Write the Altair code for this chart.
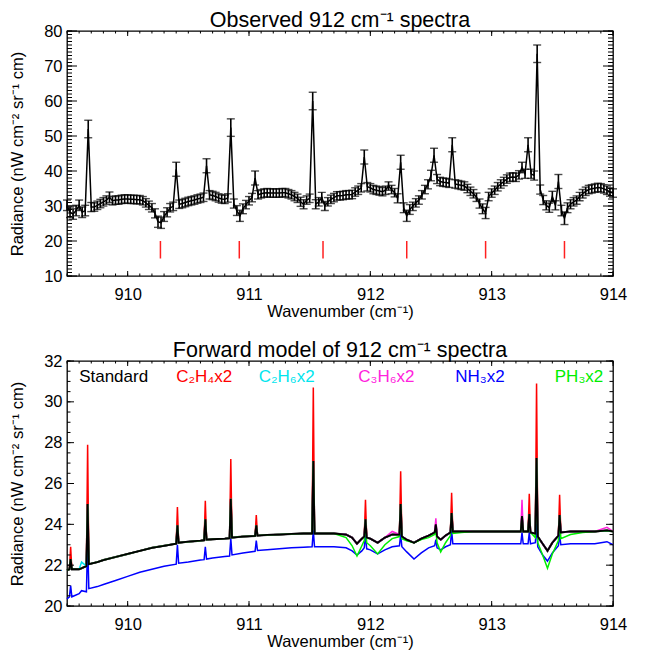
import altair as alt
import pandas as pd

FONT = "Liberation Sans"
W, H = 546, 245

# ---------------- Observed spectrum (top panel) ----------------
top_wn = [
    909.500, 909.525, 909.550, 909.575,
    909.600, 909.625, 909.650, 909.675,
    909.700, 909.725, 909.750, 909.775,
    909.800, 909.825, 909.850, 909.875,
    909.900, 909.925, 909.950, 909.975,
    910.000, 910.025, 910.050, 910.075,
    910.100, 910.125, 910.150, 910.175,
    910.200, 910.225, 910.250, 910.275,
    910.300, 910.325, 910.350, 910.375,
    910.400, 910.425, 910.450, 910.475,
    910.500, 910.525, 910.550, 910.575,
    910.600, 910.625, 910.650, 910.675,
    910.700, 910.725, 910.750, 910.775,
    910.800, 910.825, 910.850, 910.875,
    910.900, 910.925, 910.950, 910.975,
    911.000, 911.025, 911.050, 911.075,
    911.100, 911.125, 911.150, 911.175,
    911.200, 911.225, 911.250, 911.275,
    911.300, 911.325, 911.350, 911.375,
    911.400, 911.425, 911.450, 911.475,
    911.500, 911.525, 911.550, 911.575,
    911.600, 911.625, 911.650, 911.675,
    911.700, 911.725, 911.750, 911.775,
    911.800, 911.825, 911.850, 911.875,
    911.900, 911.925, 911.950, 911.975,
    912.000, 912.025, 912.050, 912.075,
    912.100, 912.125, 912.150, 912.175,
    912.200, 912.225, 912.250, 912.275,
    912.300, 912.325, 912.350, 912.375,
    912.400, 912.425, 912.450, 912.475,
    912.500, 912.525, 912.550, 912.575,
    912.600, 912.625, 912.650, 912.675,
    912.700, 912.725, 912.750, 912.775,
    912.800, 912.825, 912.850, 912.875,
    912.900, 912.925, 912.950, 912.975,
    913.000, 913.025, 913.050, 913.075,
    913.100, 913.125, 913.150, 913.175,
    913.200, 913.225, 913.250, 913.275,
    913.300, 913.325, 913.350, 913.375,
    913.400, 913.425, 913.450, 913.475,
    913.500, 913.525, 913.550, 913.575,
    913.600, 913.625, 913.650, 913.675,
    913.700, 913.725, 913.750, 913.775,
    913.800, 913.825, 913.850, 913.875,
    913.900, 913.925, 913.950, 913.975,
    914.000,
]
top_rad = [
    30.2, 28.2, 27.7, 28.7,
    30.2, 28.2, 28.7, 52.0,
    29.7, 29.7, 30.2, 30.7,
    31.2, 31.7, 32.5, 31.5,
    31.7, 31.7, 31.9, 32.0,
    32.0, 31.9, 31.9, 31.8,
    31.8, 31.5, 30.9, 30.2,
    29.5, 27.9, 25.5, 25.2,
    27.0, 28.2, 29.5, 29.9,
    40.5, 30.5, 30.7, 31.0,
    31.3, 31.5, 31.7, 32.0,
    32.2, 32.5, 41.5, 33.2,
    33.0, 32.7, 32.3, 32.0,
    31.9, 32.3, 52.4, 30.7,
    28.7, 27.2, 29.2, 30.4,
    31.5, 32.4, 38.0, 33.2,
    33.5, 33.7, 33.8, 33.7,
    33.7, 33.7, 33.7, 33.8,
    33.8, 33.5, 33.2, 32.7,
    32.2, 31.2, 30.5, 31.7,
    32.2, 60.0, 30.5, 31.2,
    32.4, 30.0, 31.2, 31.9,
    32.4, 32.9, 32.9, 33.0,
    33.2, 33.2, 33.3, 34.0,
    34.5, 35.2, 44.0, 35.5,
    35.2, 34.7, 34.5, 34.3,
    34.1, 34.5, 35.7, 34.7,
    33.8, 32.2, 42.5, 29.5,
    27.2, 29.0, 29.9, 30.9,
    31.7, 33.2, 34.7, 36.2,
    38.7, 44.5, 37.7, 37.0,
    36.8, 36.7, 36.5, 47.5,
    36.3, 36.1, 35.9, 35.7,
    35.0, 34.2, 33.5, 32.5,
    30.7, 29.2, 28.0, 32.7,
    33.7, 34.5, 35.5, 36.3,
    37.0, 37.7, 38.2, 38.3,
    38.2, 38.9, 41.0, 39.2,
    47.5, 39.2, 38.7, 73.5,
    34.7, 31.7, 30.2, 29.5,
    32.7, 30.2, 37.0, 28.7,
    26.5, 29.5, 30.5, 31.2,
    31.7, 32.7, 33.5, 34.2,
    34.7, 34.9, 35.1, 35.3,
    35.2, 34.9, 34.5, 34.0,
    33.7,
]
top_err = [
    1.5, 1.5, 1.5, 1.5,
    1.5, 1.5, 1.5, 2.5,
    1.3, 1.2, 1.2, 1.2,
    1.2, 1.2, 1.5, 1.2,
    1.2, 1.2, 1.2, 1.2,
    1.2, 1.2, 1.2, 1.2,
    1.2, 1.2, 1.2, 1.2,
    1.2, 1.3, 1.6, 1.6,
    1.4, 1.3, 1.2, 1.2,
    2.0, 1.2, 1.2, 1.2,
    1.2, 1.2, 1.2, 1.2,
    1.2, 1.2, 2.0, 1.2,
    1.2, 1.2, 1.2, 1.2,
    1.2, 1.2, 2.5, 1.3,
    1.4, 1.6, 1.4, 1.2,
    1.2, 1.2, 2.0, 1.2,
    1.2, 1.2, 1.2, 1.2,
    1.2, 1.2, 1.2, 1.2,
    1.2, 1.2, 1.2, 1.2,
    1.2, 1.3, 1.3, 1.2,
    1.2, 2.5, 1.3, 1.2,
    1.5, 1.3, 1.2, 1.2,
    1.2, 1.2, 1.2, 1.2,
    1.2, 1.2, 1.2, 1.2,
    1.2, 1.2, 2.0, 1.2,
    1.2, 1.2, 1.2, 1.2,
    1.2, 1.2, 1.2, 1.2,
    1.2, 1.3, 2.0, 1.4,
    1.6, 1.4, 1.2, 1.2,
    1.2, 1.2, 1.2, 1.3,
    1.5, 2.0, 1.3, 1.2,
    1.2, 1.2, 1.2, 2.0,
    1.2, 1.2, 1.2, 1.2,
    1.2, 1.2, 1.2, 1.2,
    1.3, 1.4, 1.6, 1.2,
    1.2, 1.2, 1.2, 1.2,
    1.2, 1.2, 1.2, 1.2,
    1.2, 1.2, 1.5, 1.3,
    2.0, 1.3, 1.3, 2.5,
    1.3, 1.3, 1.3, 1.3,
    1.5, 1.3, 2.0, 1.5,
    1.8, 1.4, 1.3, 1.2,
    1.2, 1.2, 1.2, 1.2,
    1.2, 1.2, 1.2, 1.2,
    1.2, 1.2, 1.2, 1.2,
    1.2,
]
assert len(top_wn) == len(top_rad) == len(top_err)

marker_wn = [910.27, 910.92, 911.61, 912.30, 912.95, 913.60]
marker_lo = [15.0, 15.0, 15.0, 15.0, 15.0, 15.0]
marker_hi = [20.0, 20.0, 20.0, 20.0, 20.0, 20.0]

# ---------------- Forward models (bottom panel) ----------------
bot_wn = [
    909.50, 909.52, 909.53, 909.54, 909.60, 909.62, 909.66, 909.67, 909.68, 909.75,
    909.80, 909.90, 910.00, 910.10, 910.20, 910.30, 910.40, 910.41, 910.42, 910.50,
    910.60, 910.63, 910.64, 910.65, 910.70, 910.80, 910.84, 910.85, 910.86, 910.95,
    911.05, 911.06, 911.07, 911.15, 911.25, 911.35, 911.45, 911.52, 911.53, 911.54,
    911.60, 911.70, 911.80, 911.85, 911.89, 911.93, 911.95, 911.96, 911.97, 912.00,
    912.06, 912.12, 912.18, 912.24, 912.25, 912.26, 912.30, 912.36, 912.42, 912.48,
    912.53, 912.54, 912.55, 912.58, 912.62, 912.66, 912.67, 912.68, 912.75, 912.85,
    912.95, 913.05, 913.15, 913.24, 913.25, 913.26, 913.30, 913.31, 913.32, 913.36,
    913.37, 913.38, 913.42, 913.46, 913.50, 913.55, 913.56, 913.57, 913.65, 913.75,
    913.85, 913.95, 914.00,
]
std = [
    21.75, 21.80, 22.30, 21.80, 21.80, 21.85, 21.95, 25.00, 22.05, 22.15,
    22.25, 22.40, 22.55, 22.70, 22.85, 22.95, 23.05, 23.95, 23.10, 23.15,
    23.20, 23.22, 24.25, 23.25, 23.27, 23.30, 23.32, 25.25, 23.35, 23.40,
    23.43, 23.95, 23.45, 23.48, 23.50, 23.53, 23.55, 23.55, 27.10, 23.55,
    23.55, 23.55, 23.50, 23.35, 23.05, 23.30, 23.40, 24.25, 23.35, 23.30,
    23.10, 23.35, 23.50, 23.50, 25.00, 23.40, 23.25, 23.10, 23.30, 23.45,
    23.60, 24.00, 23.40, 23.25, 23.45, 23.60, 24.55, 23.65, 23.65, 23.65,
    23.65, 23.65, 23.65, 23.65, 24.40, 23.65, 23.65, 24.50, 23.60, 23.55,
    27.25, 23.40, 23.05, 22.70, 23.10, 23.45, 24.45, 23.60, 23.65, 23.65,
    23.65, 23.70, 23.65,
]
c2h4 = [
    21.75, 21.80, 22.90, 21.80, 21.80, 21.85, 21.95, 27.90, 22.05, 22.15,
    22.25, 22.40, 22.55, 22.70, 22.85, 22.95, 23.05, 24.85, 23.10, 23.15,
    23.20, 23.22, 25.15, 23.25, 23.27, 23.30, 23.32, 27.20, 23.35, 23.40,
    23.43, 24.45, 23.45, 23.48, 23.50, 23.53, 23.55, 23.55, 30.70, 23.55,
    23.55, 23.55, 23.50, 23.35, 23.05, 23.30, 23.40, 25.20, 23.35, 23.30,
    23.10, 23.35, 23.50, 23.50, 26.60, 23.40, 23.25, 23.10, 23.30, 23.45,
    23.60, 24.00, 23.40, 23.25, 23.45, 23.60, 25.55, 23.65, 23.65, 23.65,
    23.65, 23.65, 23.65, 23.65, 24.40, 23.65, 23.65, 25.50, 23.60, 23.55,
    30.90, 23.40, 23.05, 22.70, 23.10, 23.45, 25.45, 23.60, 23.65, 23.65,
    23.65, 23.70, 23.65,
]
c2h6 = [
    21.75, 21.80, 22.30, 21.80, 21.80, 22.15, 21.95, 25.00, 22.05, 22.15,
    22.25, 22.40, 22.55, 22.70, 22.85, 22.95, 23.05, 23.95, 23.10, 23.15,
    23.20, 23.22, 24.25, 23.25, 23.27, 23.30, 23.32, 25.25, 23.35, 23.40,
    23.43, 23.95, 23.45, 23.48, 23.50, 23.53, 23.55, 23.55, 27.10, 23.55,
    23.55, 23.55, 23.50, 23.35, 23.05, 23.30, 23.40, 24.25, 23.35, 23.30,
    23.10, 23.35, 23.50, 23.50, 25.00, 23.40, 23.25, 23.10, 23.30, 23.45,
    23.60, 24.00, 23.40, 23.25, 23.45, 23.60, 24.55, 23.65, 23.65, 23.65,
    23.65, 23.65, 23.65, 23.65, 24.40, 23.65, 23.65, 24.50, 23.60, 23.55,
    27.25, 23.40, 23.05, 22.70, 23.10, 23.45, 24.45, 23.60, 23.65, 23.65,
    23.65, 23.70, 23.65,
]
c3h6 = [
    21.75, 21.80, 22.30, 21.80, 21.80, 21.85, 21.95, 25.00, 22.05, 22.15,
    22.25, 22.40, 22.55, 22.70, 22.85, 22.95, 23.05, 23.95, 23.10, 23.15,
    23.20, 23.22, 24.25, 23.25, 23.27, 23.30, 23.32, 25.25, 23.35, 23.40,
    23.43, 23.95, 23.45, 23.48, 23.50, 23.53, 23.55, 23.55, 27.10, 23.55,
    23.55, 23.55, 23.50, 23.35, 23.05, 23.30, 23.40, 24.25, 23.35, 23.30,
    23.10, 23.35, 23.65, 23.50, 25.00, 23.40, 23.25, 23.10, 23.30, 23.45,
    23.60, 24.30, 23.40, 23.25, 23.45, 23.60, 24.55, 23.65, 23.65, 23.65,
    23.65, 23.65, 23.65, 23.65, 25.20, 23.65, 23.65, 24.50, 23.60, 23.55,
    27.25, 23.40, 23.05, 22.70, 23.10, 23.45, 24.45, 23.60, 23.65, 23.65,
    23.65, 23.85, 23.65,
]
nh3 = [
    20.35, 20.45, 21.00, 20.45, 20.60, 20.75, 20.70, 23.15, 20.85, 20.95,
    21.05, 21.25, 21.45, 21.65, 21.80, 21.95, 22.05, 23.00, 22.10, 22.15,
    22.25, 22.27, 22.90, 22.30, 22.35, 22.43, 22.45, 23.30, 22.50, 22.60,
    22.68, 23.20, 22.72, 22.76, 22.80, 22.85, 22.88, 22.90, 23.70, 22.90,
    22.90, 22.90, 22.85, 22.70, 22.50, 22.70, 22.85, 23.50, 22.80, 22.75,
    22.55, 22.75, 22.90, 22.95, 23.50, 22.90, 22.65, 22.30, 22.60, 22.85,
    22.95, 23.25, 22.85, 22.75, 22.90, 23.00, 23.70, 23.05, 23.05, 23.05,
    23.05, 23.05, 23.05, 23.05, 23.60, 23.05, 23.05, 23.60, 23.05, 23.10,
    24.00, 22.90, 22.50, 22.20, 22.60, 22.95, 23.50, 23.00, 23.05, 23.05,
    23.05, 23.15, 23.00,
]
ph3 = [
    21.75, 21.80, 22.30, 21.80, 21.80, 21.85, 21.95, 25.00, 22.05, 22.15,
    22.25, 22.40, 22.55, 22.70, 22.85, 22.95, 23.05, 23.95, 23.10, 23.15,
    23.20, 23.22, 24.25, 23.25, 23.27, 23.30, 23.32, 25.25, 23.35, 23.40,
    23.43, 23.95, 23.45, 23.48, 23.50, 23.53, 23.55, 23.55, 27.10, 23.55,
    23.55, 23.55, 23.35, 22.95, 22.45, 22.95, 23.20, 24.25, 23.10, 22.95,
    22.55, 23.00, 23.30, 23.40, 25.00, 23.30, 23.20, 23.10, 23.25, 23.35,
    23.50, 23.70, 23.10, 22.65, 23.10, 23.45, 24.55, 23.55, 23.60, 23.65,
    23.65, 23.65, 23.65, 23.65, 24.40, 23.65, 23.65, 24.50, 23.60, 23.35,
    27.25, 23.10, 22.50, 21.85, 22.55, 23.20, 24.45, 23.30, 23.50, 23.60,
    23.65, 23.70, 23.65,
]
for s in (std, c2h4, c2h6, c3h6, nh3, ph3):
    assert len(s) == len(bot_wn)

legend_labels = ["Standard", "C\u2082H\u2084x2", "C\u2082H\u2086x2", "C\u2083H\u2086x2", "NH\u2083x2", "PH\u2083x2"]
legend_wn = [909.60, 910.40, 911.08, 911.90, 912.70, 913.52]
legend_rad = [31.2, 31.2, 31.2, 31.2, 31.2, 31.2]
legend_colors = ["#000000", "#ff0000", "#00e5ee", "#ff22dd", "#0000ff", "#00ee00"]

# ---------------- Frames ----------------
top_df = pd.DataFrame({"wn": top_wn, "rad": top_rad, "err": top_err})
top_df["lo"] = top_df["rad"] - top_df["err"]
top_df["hi"] = top_df["rad"] + top_df["err"]
mark_df = pd.DataFrame({"wn": marker_wn, "lo": marker_lo, "hi": marker_hi})
bot_df = pd.DataFrame({"wn": bot_wn, "std": std, "c2h4": c2h4, "c2h6": c2h6,
                       "c3h6": c3h6, "nh3": nh3, "ph3": ph3})
leg_df = pd.DataFrame({"wn": legend_wn, "rad": legend_rad, "label": legend_labels,
                       "col": legend_colors})

xs = alt.Scale(domain=[909.5, 914.0], nice=False, zero=False)
ys_top = alt.Scale(domain=[10, 80], nice=False, zero=False)
ys_bot = alt.Scale(domain=[20, 32], nice=False, zero=False)

X_MAJ = [910, 911, 912, 913, 914]
X_MIN = [round(909.5 + 0.1 * i, 1) for i in range(46)]

XTITLE = "Wavenumber (cm\u207b\u00b9)"
YTITLE = "Radiance (nW cm\u207b\u00b2 sr\u207b\u00b9 cm)"
LBL = 16.5


def main_x():
    return alt.Axis(values=X_MAJ, format="d", ticks=False, domain=False, grid=False,
                    title=XTITLE, labelPadding=10, titlePadding=1, labelFlush=False,
                    labelFont=FONT, titleFont=FONT, labelFontSize=LBL, titleFontSize=LBL,
                    titleFontWeight="normal", labelColor="black", titleColor="black")


def main_y(vals):
    return alt.Axis(values=vals, format="d", ticks=False, domain=False, grid=False,
                    title=YTITLE, labelPadding=5, titlePadding=18, labelFlush=False,
                    labelFont=FONT, titleFont=FONT, labelFontSize=LBL, titleFontSize=LBL,
                    titleFontWeight="normal", labelColor="black", titleColor="black")


def tick_rules(ymaj, ymin, yscale, xl, xml, yl, yml):
    """Inward-pointing ticks on all four sides of the frame (IDL style)."""
    out = []
    for vals, ln in ((X_MIN, xml), (X_MAJ, xl)):
        d = pd.DataFrame({"v": vals})
        out.append(alt.Chart(d).mark_rule(color="black", strokeWidth=1).encode(
            x=alt.X("v:Q", scale=xs, axis=None), y=alt.value(H), y2=alt.value(H - ln)))
        out.append(alt.Chart(d).mark_rule(color="black", strokeWidth=1).encode(
            x=alt.X("v:Q", scale=xs, axis=None), y=alt.value(0), y2=alt.value(ln)))
    for vals, ln in ((ymin, yml), (ymaj, yl)):
        d = pd.DataFrame({"v": vals})
        out.append(alt.Chart(d).mark_rule(color="black", strokeWidth=1).encode(
            y=alt.Y("v:Q", scale=yscale, axis=None), x=alt.value(0), x2=alt.value(ln)))
        out.append(alt.Chart(d).mark_rule(color="black", strokeWidth=1).encode(
            y=alt.Y("v:Q", scale=yscale, axis=None), x=alt.value(W), x2=alt.value(W - ln)))
    return out


# ---- top panel
top_line = alt.Chart(top_df).mark_line(color="black", strokeWidth=1.5).encode(
    x=alt.X("wn:Q", scale=xs, axis=main_x()),
    y=alt.Y("rad:Q", scale=ys_top, axis=main_y([10, 20, 30, 40, 50, 60, 70, 80])),
)
top_bars = alt.Chart(top_df).mark_rule(color="black", strokeWidth=1.6).encode(
    x=alt.X("wn:Q", scale=xs, axis=None),
    y=alt.Y("lo:Q", scale=ys_top, axis=None),
    y2="hi:Q",
)
top_cap_lo = alt.Chart(top_df).mark_tick(orient="horizontal", color="black", size=8, thickness=1.4).encode(
    x=alt.X("wn:Q", scale=xs, axis=None),
    y=alt.Y("lo:Q", scale=ys_top, axis=None),
)
top_cap_hi = alt.Chart(top_df).mark_tick(orient="horizontal", color="black", size=8, thickness=1.4).encode(
    x=alt.X("wn:Q", scale=xs, axis=None),
    y=alt.Y("hi:Q", scale=ys_top, axis=None),
)
top_marks = alt.Chart(mark_df).mark_rule(color="#ff2020", strokeWidth=1.5).encode(
    x=alt.X("wn:Q", scale=xs, axis=None),
    y=alt.Y("lo:Q", scale=ys_top, axis=None),
    y2="hi:Q",
)
top_ticks = tick_rules([10, 20, 30, 40, 50, 60, 70, 80], list(range(10, 81)), ys_top,
                       5, 2.5, 10, 5)

top = alt.layer(top_line, top_bars, top_cap_lo, top_cap_hi, top_marks, *top_ticks).resolve_axis(
    x="independent", y="independent"
).properties(
    width=W, height=H,
    title=alt.TitleParams("Observed 912 cm\u207b\u00b9 spectra", fontSize=21.5, font=FONT,
                          fontWeight="normal", anchor="middle", offset=-8, color="black"),
)

# ---- bottom panel
def model_line(field, color, width):
    return alt.Chart(bot_df).mark_line(color=color, strokeWidth=width).encode(
        x=alt.X("wn:Q", scale=xs, axis=None),
        y=alt.Y(f"{field}:Q", scale=ys_bot, axis=None),
    )

bot_main = alt.Chart(bot_df).mark_line(color="black", strokeWidth=2).encode(
    x=alt.X("wn:Q", scale=xs, axis=main_x()),
    y=alt.Y("std:Q", scale=ys_bot, axis=main_y([20, 22, 24, 26, 28, 30, 32])),
)
legend = alt.Chart(leg_df).mark_text(align="left", baseline="middle", fontSize=17, font=FONT).encode(
    x=alt.X("wn:Q", scale=xs, axis=None),
    y=alt.Y("rad:Q", scale=ys_bot, axis=None),
    text="label:N",
    color=alt.Color("col:N", scale=None, legend=None),
)
bot_ticks = tick_rules([20, 22, 24, 26, 28, 30, 32], [20 + 0.5 * i for i in range(25)], ys_bot,
                       5, 2.5, 7, 3.5)

bottom = alt.layer(
    bot_main,
    model_line("c2h4", "#ff0000", 1.5),
    model_line("c2h6", "#00e5ee", 1.5),
    model_line("c3h6", "#ff22dd", 1.5),
    model_line("nh3", "#0000ff", 1.5),
    model_line("ph3", "#00ee00", 1.5),
    model_line("std", "#000000", 1.8),
    legend,
    *bot_ticks,
).resolve_axis(x="independent", y="independent").properties(
    width=W, height=H,
    title=alt.TitleParams("Forward model of 912 cm\u207b\u00b9 spectra", fontSize=21.5, font=FONT,
                          fontWeight="normal", anchor="middle", offset=-8, color="black"),
)

chart = alt.vconcat(top, bottom, spacing=17).properties(
    padding={"left": 0, "top": 0, "right": 5, "bottom": 0}, background="white"
).configure_view(
    stroke="black", strokeWidth=1.3
)

chart.save("out.html", embed_options={"renderer": "svg", "actions": False})
